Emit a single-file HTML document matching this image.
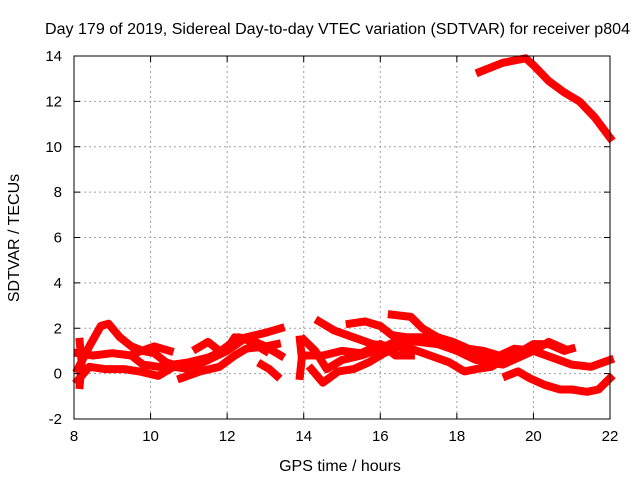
<!DOCTYPE html>
<html><head><meta charset="utf-8"><style>
body{margin:0;background:#fff}
svg{display:block;font-family:"Liberation Sans",sans-serif}
</style></head><body>
<svg id="chart" width="640" height="480" viewBox="0 0 640 480">
<rect width="640" height="480" fill="#fff"/>
<text x="45" y="34" font-size="16" textLength="585" lengthAdjust="spacingAndGlyphs">Day 179 of 2019, Sidereal Day-to-day VTEC variation (SDTVAR) for receiver p804</text>
<g id="grid"></g>
<g id="marks"></g>
<g id="axes"></g>
<text x="340" y="471" font-size="16" text-anchor="middle">GPS time / hours</text>
<text transform="translate(19,238) rotate(-90)" font-size="16" text-anchor="middle">SDTVAR / TECUs</text>
</svg>
<script>
const xTicks=[8,10,12,14,16,18,20,22];
const yTicks=[-2,0,2,4,6,8,10,12,14];
const trackA=[[8.1,0.2],[8.4,1.2],[8.7,2.1],[8.9,2.2],[9.2,1.6],[9.5,1.2],[9.8,1.0],[10.1,0.9],[10.4,0.5],[10.8,0.3],[11.2,0.4],[11.5,0.6],[12,1.2],[12.3,1.6],[12.6,1.5],[13.0,1.2],[13.4,0.8]];
const trackB=[[8.1,0.9],[8.5,0.8],[9,0.9],[9.5,0.8],[9.8,0.4],[10.2,0.3],[10.6,0.4],[11,0.5],[11.5,0.7],[12,1.1],[12.2,1.6],[12.5,1.5],[13,1.0]];
const trackC=[[8.1,-0.3],[8.4,0.3],[8.8,0.2],[9.3,0.2],[9.7,0.1],[10.2,-0.1],[10.6,0.3],[11,0.2],[11.5,0.6],[12,1.0],[12.5,1.6],[13,1.8],[13.4,2.0]];
const trackD=[[9.6,0.9],[10.1,1.2],[10.5,1.0]];
const trackE=[[10.8,-0.2],[11.3,0.1],[11.8,0.3],[12.2,0.8],[12.5,1.1],[13.0,1.2],[13.3,1.3]];
const trackF=[[11.2,1.1],[11.5,1.4],[11.8,1.0]];
const trackG=[[12.9,0.4],[13.1,0.2],[13.3,-0.1]];
const trackH=[[8.15,-0.5],[8.2,0.5],[8.15,1.4]];
const trackH2=[[13.9,-0.1],[13.95,0.7],[13.9,1.5]];
const trackI=[[14.0,1.5],[14.3,1.0],[14.6,0.2],[15.0,0.6],[15.5,0.8],[16,1.1],[16.5,1.5],[17,1.4],[17.5,1.3],[18,1.0],[18.5,0.9],[19,0.7],[19.5,1.1],[20,1.0],[20.5,0.7],[21,0.4],[21.5,0.3],[22,0.6]];
const trackJ=[[14.4,2.3],[14.8,1.9],[15.3,1.6],[15.8,1.3],[16.3,1.2],[16.8,1.1],[17.3,0.8],[17.8,0.5],[18.2,0.1],[18.5,0.2],[18.9,0.3],[19.2,0.6],[19.6,0.9],[20,1.3],[20.4,1.3],[20.8,1.0],[21.0,1.1]];
const trackK=[[15.2,2.2],[15.6,2.3],[16.0,2.1],[16.3,1.7],[16.7,1.6],[17.1,1.6],[17.5,1.5],[18,1.0],[18.5,0.6],[18.8,0.5],[19.2,0.4],[19.6,0.7],[20,1.0],[20.4,1.4],[20.8,1.1]];
const trackL=[[16.3,2.6],[16.8,2.5],[17.1,2.0],[17.5,1.6],[17.9,1.4],[18.3,1.1],[18.7,1.0],[19.1,0.8]];
const trackM=[[14,0.8],[14.5,0.8],[15,1.0],[15.5,0.9],[16,1.3],[16.4,0.8],[16.8,0.8]];
const trackN=[[14.2,0.2],[14.5,-0.4],[14.9,0.1],[15.3,0.2],[15.7,0.5],[16.1,0.9],[16.5,1.2]];
const trackO=[[19.3,-0.1],[19.6,0.1],[19.9,-0.2],[20.3,-0.5],[20.7,-0.7],[21.0,-0.7],[21.4,-0.8],[21.7,-0.7],[22,-0.2]];
const trackP=[[18.6,13.3],[18.9,13.5],[19.2,13.7],[19.5,13.8],[19.8,13.9],[20.0,13.6],[20.4,12.9],[20.8,12.4],[21.2,12.0],[21.6,11.3],[22,10.4]];
const tracks=[trackA,trackB,trackC,trackD,trackE,trackF,trackG,trackH,trackH2,trackI,trackJ,trackK,trackL,trackM,trackN,trackO,trackP];

const L=74,R=610,T=56,B=419;
const sx=h=>L+(h-8)/14*(R-L);
const sy=v=>B-(v+2)/16*(B-T);
const NS="http://www.w3.org/2000/svg";
const grid=document.getElementById('grid'),axes=document.getElementById('axes'),marks=document.getElementById('marks');
function mk(tag,attrs,parent){const e=document.createElementNS(NS,tag);for(const k in attrs)e.setAttribute(k,attrs[k]);parent.appendChild(e);return e;}
xTicks.forEach(t=>{
  const x=sx(t);
  if(t>8&&t<22){const g=mk('line',{x1:x,x2:x,y1:T,y2:B,stroke:'#a0a0a0','stroke-dasharray':'2,3'},grid);
  
  }
  mk('line',{x1:x,x2:x,y1:B,y2:B-6,stroke:'#000'},axes);
  mk('line',{x1:x,x2:x,y1:T,y2:T+6,stroke:'#000'},axes);
  const tx=mk('text',{x:x,y:B+22,'font-size':15,'text-anchor':'middle'},axes);
  tx.textContent=t;
  
  
});
yTicks.forEach(t=>{
  const y=sy(t);
  if(t>-2&&t<14){const g=mk('line',{x1:L,x2:R,y1:y,y2:y,stroke:'#a0a0a0','stroke-dasharray':'2,3'},grid);
  
  }
  mk('line',{x1:L,x2:L+6,y1:y,y2:y,stroke:'#000'},axes);
  mk('line',{x1:R,x2:R-6,y1:y,y2:y,stroke:'#000'},axes);
  const tx=mk('text',{x:62,y:y+5,'font-size':15,'text-anchor':'end'},axes);
  tx.textContent=t;
  
  
});
const frame=mk('rect',{x:L,y:T,width:R-L,height:B-T,fill:'none',stroke:'#000'},axes);


tracks.forEach(tr=>{
  const d=tr.map((p,i)=>(i?'L':'M')+sx(p[0]).toFixed(1)+','+sy(p[1]).toFixed(1)).join(' ');
  const p=mk('path',{d:d,fill:'none',stroke:'#f00','stroke-width':8,'stroke-linejoin':'round','stroke-linecap':'square'},marks);
  
  
});
</script>
</body></html>
